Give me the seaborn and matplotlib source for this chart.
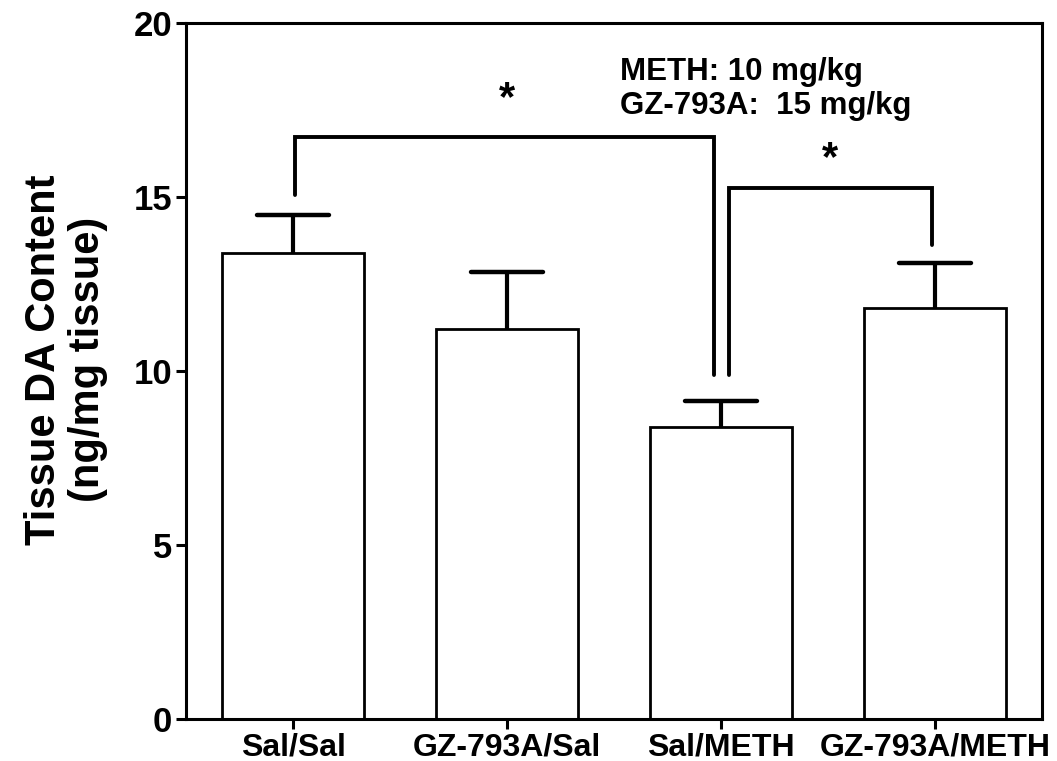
import matplotlib
matplotlib.use("Agg")
import matplotlib.pyplot as plt
import seaborn as sns
import pandas as pd
import numpy as np

categories = ["Sal/Sal", "GZ-793A/Sal", "Sal/METH", "GZ-793A/METH"]
means = [13.39, 11.21, 8.38, 11.82]
sem = [1.09, 1.64, 0.77, 1.27]
yticks = [0, 5, 10, 15, 20]

sns.set_theme(style="white")
plt.rcParams["font.family"] = ["Liberation Sans", "DejaVu Sans"]
plt.rcParams["font.weight"] = "bold"
for k in ["text.color", "axes.labelcolor", "xtick.color", "ytick.color"]:
    plt.rcParams[k] = "black"

fig = plt.figure(figsize=(10.57, 7.61), dpi=100)
ax = fig.add_axes([186/1057, 1-719/761, (1042-186)/1057, (719-23)/761])

df = pd.DataFrame({"group": categories, "value": means})
sns.barplot(data=df, x="group", y="value", ax=ax, color="white",
            edgecolor="black", linewidth=2.0, width=0.667, errorbar=None,
            saturation=1)
for p in ax.patches:
    p.set_facecolor("white")

xs = np.arange(len(categories))
tops = np.array(means) + np.array(sem)
ax.vlines(xs, means, tops, color="black", lw=3, zorder=5)
ax.hlines(tops, xs - 0.17, xs + 0.17, color="black", lw=3.2, zorder=5, capstyle="round")

# significance brackets
lw = 2.8
ax.plot([0.01, 0.01, 1.967, 1.967], [15.06, 16.72, 16.72, 9.89], color="black", lw=lw, solid_joinstyle="miter")
ax.plot([2.037, 2.037, 2.986, 2.986], [9.89, 15.27, 15.27, 13.62], color="black", lw=lw, solid_joinstyle="miter")
ax.text(1.0, 17.8, "*", ha="center", va="center", fontsize=30, fontweight="bold")
ax.text(2.51, 16.1, "*", ha="center", va="center", fontsize=30, fontweight="bold")

ax.text(1.53, 18.58, "METH: 10 mg/kg", ha="left", va="center", fontsize=22.5, fontweight="bold")
ax.text(1.53, 17.62, "GZ-793A:  15 mg/kg", ha="left", va="center", fontsize=22.5, fontweight="bold")

ax.set_xlim(-0.5, 3.5)
ax.set_ylim(0, 20)
ax.set_yticks(yticks)
ax.set_yticklabels([str(t) for t in yticks], fontsize=25, fontweight="bold")
ax.set_xticks(xs)
ax.set_xticklabels(categories, fontsize=23, fontweight="bold")
ax.set_xlabel("")
ax.set_ylabel("Tissue DA Content\n(ng/mg tissue)", fontsize=30, fontweight="bold", labelpad=18, linespacing=1.15)
ax.yaxis.label.set_y(0.516)

for s in ax.spines.values():
    s.set_visible(True)
    s.set_color("black")
    s.set_linewidth(2.2)
ax.tick_params(axis="both", which="both", direction="out", length=7, width=2.2, color="black", left=True, bottom=True, pad=3)

fig.savefig("out.png", dpi=100, facecolor="white")
